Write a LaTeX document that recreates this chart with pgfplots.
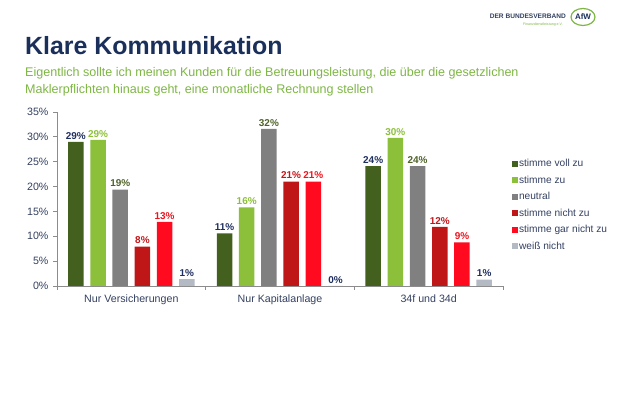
\documentclass[border=0pt]{standalone}
\usepackage{pgfplots}
\pgfplotsset{compat=1.18}
\usepackage{fontspec}
\setmainfont{Liberation Sans}
\definecolor{cvoll}{HTML}{44601F}
\definecolor{czu}{HTML}{8CBF3A}
\definecolor{cneu}{HTML}{808080}
\definecolor{cnicht}{HTML}{BF1717}
\definecolor{cgar}{HTML}{FF0A1E}
\definecolor{cweiss}{HTML}{B4BAC3}
\definecolor{lnavy}{HTML}{1F2F5F}
\definecolor{lolive}{HTML}{4F6228}
\definecolor{lred}{HTML}{C0171B}
\definecolor{lred2}{HTML}{F0141E}
\definecolor{titlenavy}{HTML}{1B2F5B}
\definecolor{subgreen}{HTML}{7DB643}
\definecolor{ticktext}{HTML}{334060}
\definecolor{axisgrey}{HTML}{8C8C8C}
\begin{document}
\begin{tikzpicture}
\path[use as bounding box] (0,0) rectangle (620bp,413bp);
% title
\node[anchor=base west, inner sep=0, text=titlenavy, font=\fontsize{25}{30}\selectfont\bfseries] at (25bp,358bp) {Klare Kommunikation};
\node[anchor=base west, inner sep=0, text=subgreen, font=\fontsize{12.6}{14.5}\selectfont, align=left] at (25bp,336bp) {Eigentlich sollte ich meinen Kunden für die Betreuungsleistung, die über die gesetzlichen};
\node[anchor=base west, inner sep=0, text=subgreen, font=\fontsize{12.6}{14.5}\selectfont, align=left] at (25bp,319bp) {Maklerpflichten hinaus geht, eine monatliche Rechnung stellen};
% logo
\node[anchor=base east, inner sep=0, text=ticktext, font=\fontsize{6.6}{7}\selectfont\bfseries] at (566bp,394bp) {DER BUNDESVERBAND};
\node[anchor=base east, inner sep=0, text=subgreen, font=\fontsize{3.6}{4}\selectfont] at (563bp,387bp) {Finanzdienstleistung e.V.};
\draw[subgreen, line width=1.2bp] (583bp,396bp) ellipse (12bp and 8.5bp);
\node[inner sep=0, text=titlenavy, font=\fontsize{8}{9}\selectfont\bfseries] at (583bp,396bp) {AfW};
\begin{axis}[
  at={(57bp,127bp)}, anchor=south west,
  scale only axis, width=446bp, height=174bp,
  xmin=-0.5, xmax=2.5, ymin=0, ymax=35,
  ybar=6.7bp, bar width=15.5bp,
  axis x line=bottom, axis y line=left,
  axis line style={-, axisgrey, line width=0.8bp},
  xtick={0,1,2},
  xticklabels={Nur Versicherungen, Nur Kapitalanlage, 34f und 34d},
  minor xtick={-0.5,0.5,1.5,2.5},
  ytick={0,5,...,35},
  yticklabel={\pgfmathprintnumber{\tick}\%},
  /pgf/number format/assume math mode=true,
  tick align=outside,
  major tick length=4bp, minor tick length=4bp,
  x tick style={draw=none},
  minor x tick style={draw=axisgrey, line width=0.8bp},
  y tick style={draw=axisgrey, line width=0.8bp},
  tick label style={text=ticktext, font=\fontsize{10.7}{12}\selectfont},
  xticklabel style={yshift=-1bp},
  yticklabel style={xshift=-1bp},
  nodes near coords={\pgfmathprintnumber[fixed,precision=0]{\pgfplotspointmeta}\%},
  every node near coord/.append style={font=\fontsize{10}{12}\selectfont\bfseries, inner sep=2.5bp},
  legend style={at={(1.014,0.748)}, anchor=north west, draw=none, fill=none,
    font=\fontsize{10.2}{12}\selectfont, text=ticktext,
    nodes={inner sep=0.6bp, text height=8bp, text depth=2bp}, row sep=5.3bp},
  legend cell align=left,
  every axis plot/.append style={draw=none},
  legend image code/.code={\fill[#1] (0bp,-3bp) rectangle (6bp,3bp);},
  clip=false,
]
\addplot[fill=cvoll, every node near coord/.append style={text=lnavy}] coordinates {(0,29.0) (1,10.6) (2,24.1)};
\addplot[fill=czu, every node near coord/.append style={text=czu}] coordinates {(0,29.4) (1,15.8) (2,29.8)};
\addplot[fill=cneu, every node near coord/.append style={text=lolive}] coordinates {(0,19.4) (1,31.6) (2,24.1)};
\addplot[fill=cnicht, every node near coord/.append style={text=lred}] coordinates {(0,7.9) (1,21.0) (2,11.9)};
\addplot[fill=cgar, every node near coord/.append style={text=lred2}] coordinates {(0,12.9) (1,21.0) (2,8.8)};
\addplot[fill=cweiss, every node near coord/.append style={text=lnavy}] coordinates {(0,1.4) (1,0) (2,1.3)};
\legend{stimme voll zu, stimme zu, neutral, stimme nicht zu, stimme gar nicht zu, weiß nicht}
\end{axis}
\end{tikzpicture}
\end{document}
